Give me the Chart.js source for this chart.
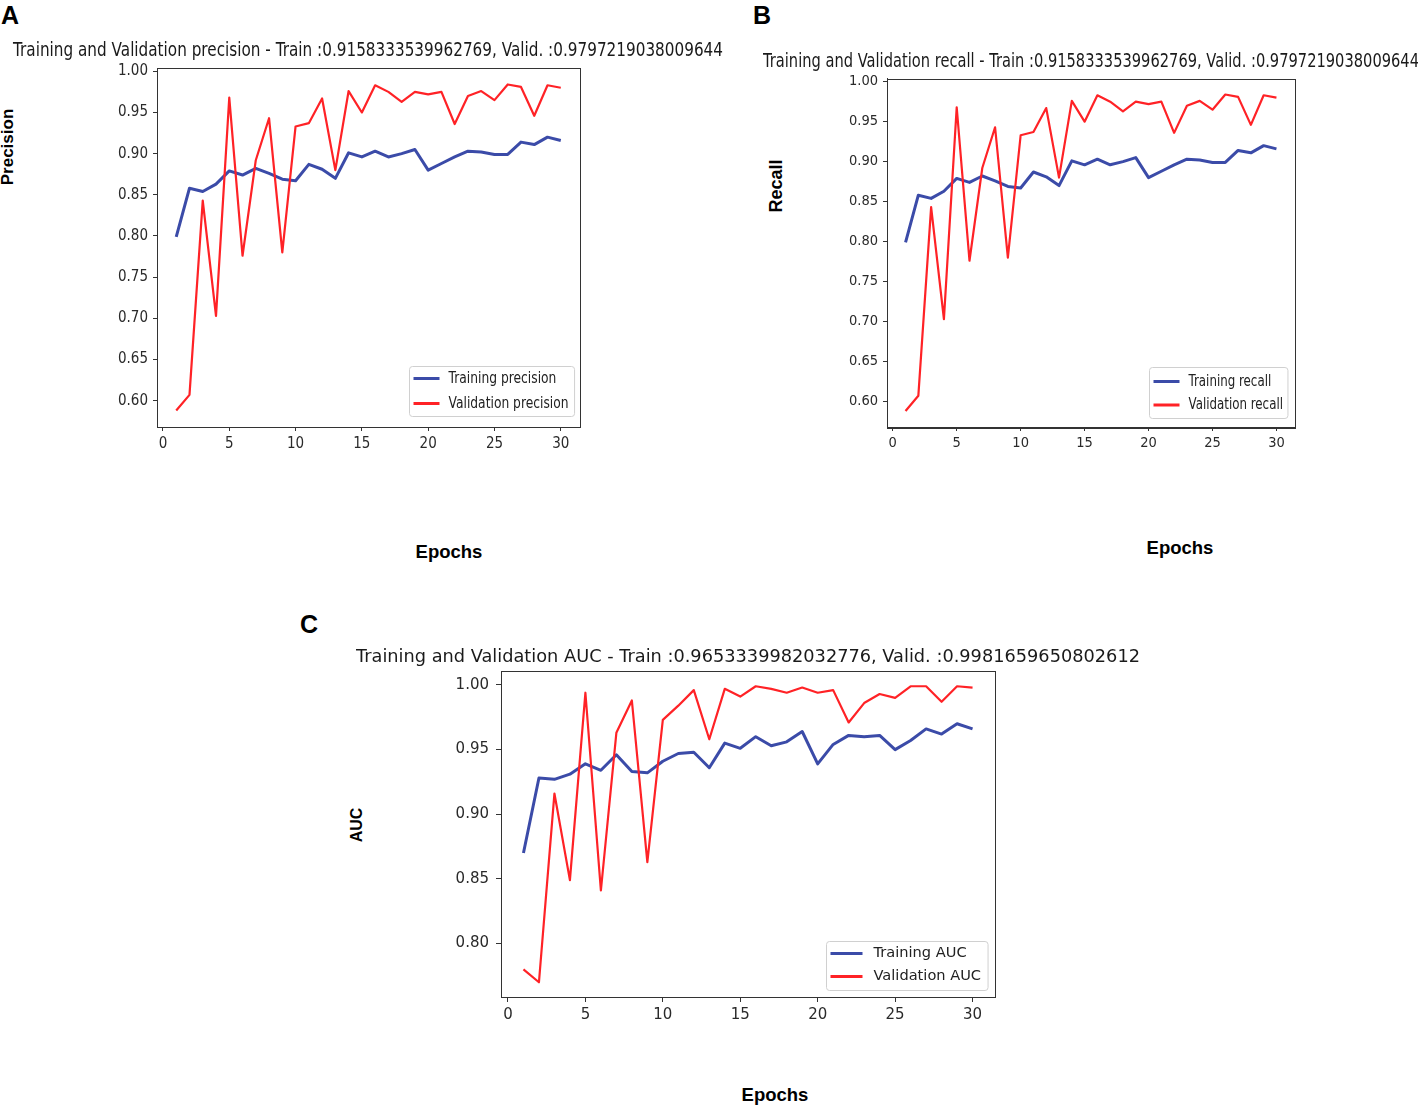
<!DOCTYPE html>
<html>
<head>
<meta charset="utf-8">
<script src="https://cdn.jsdelivr.net/npm/chart.js@4.4.1/dist/chart.umd.min.js"></script>
<style>
  body { margin: 0; width: 1418px; height: 1105px; position: relative; overflow: hidden; background: #fff; }
  canvas { position: absolute; }
  .lbl { position: absolute; transform: translate(-50%, -50%); line-height: 1; white-space: nowrap;
         font-family: 'Liberation Sans', Arial, sans-serif; font-weight: bold; color: #000; }
  .rot { transform: translate(-50%, -50%) rotate(-90deg); }
</style>
</head>
<body>
<div class="lbl" style="left:10px;top:15px;font-size:25px">A</div>
<div class="lbl" style="left:762px;top:15px;font-size:25px">B</div>
<div class="lbl" style="left:309px;top:624px;font-size:25px">C</div>
<div class="lbl rot" style="left:7px;top:147px;font-size:17px">Precision</div>
<div class="lbl rot" style="left:776px;top:186px;font-size:18px">Recall</div>
<div class="lbl rot" style="left:357px;top:825px;font-size:16px">AUC</div>
<div class="lbl" style="left:449px;top:552px;font-size:18.5px">Epochs</div>
<div class="lbl" style="left:1180px;top:548px;font-size:18.5px">Epochs</div>
<div class="lbl" style="left:775px;top:1095px;font-size:18.5px">Epochs</div>

<canvas id="chartA" width="737" height="437" style="left:0px;top:30px"></canvas>
<canvas id="chartB" width="656" height="427" style="left:763px;top:40px"></canvas>
<canvas id="chartC" width="784" height="407" style="left:356px;top:630px"></canvas>

<script>
// values, one per epoch
const epochs = [1, 2, 3, 4, 5, 6, 7, 8, 9, 10, 11, 12, 13, 14, 15, 16, 17, 18, 19, 20, 21, 22, 23, 24, 25, 26, 27, 28, 29, 30];

const precisionTrain = [0.799, 0.858, 0.854, 0.863, 0.879, 0.874, 0.882, 0.876, 0.869, 0.867, 0.887, 0.881, 0.870, 0.901, 0.896,
  0.903, 0.896, 0.900, 0.905, 0.880, 0.888, 0.896, 0.903, 0.902, 0.899, 0.899, 0.914, 0.911, 0.920, 0.916];
const precisionValid = [0.588, 0.607, 0.843, 0.703, 0.968, 0.776, 0.892, 0.943, 0.780, 0.933, 0.937, 0.967, 0.880, 0.976, 0.950,
  0.983, 0.975, 0.963, 0.975, 0.972, 0.975, 0.936, 0.970, 0.976, 0.965, 0.984, 0.981, 0.946, 0.983, 0.980];

const recallTrain = [0.799, 0.858, 0.854, 0.863, 0.879, 0.874, 0.882, 0.876, 0.869, 0.867, 0.887, 0.881, 0.870, 0.901, 0.896,
  0.903, 0.896, 0.900, 0.905, 0.880, 0.888, 0.896, 0.903, 0.902, 0.899, 0.899, 0.914, 0.911, 0.920, 0.916];
const recallValid = [0.588, 0.607, 0.843, 0.703, 0.968, 0.776, 0.892, 0.943, 0.780, 0.933, 0.937, 0.967, 0.880, 0.976, 0.950,
  0.983, 0.975, 0.963, 0.975, 0.972, 0.975, 0.936, 0.970, 0.976, 0.965, 0.984, 0.981, 0.946, 0.983, 0.980];

const aucTrain = [0.870, 0.928, 0.927, 0.931, 0.939, 0.934, 0.946, 0.933, 0.932, 0.941, 0.947, 0.948, 0.936, 0.955, 0.951,
  0.960, 0.953, 0.956, 0.964, 0.939, 0.954, 0.961, 0.960, 0.961, 0.950, 0.957, 0.966, 0.962, 0.970, 0.966];
const aucValid = [0.780, 0.770, 0.916, 0.849, 0.994, 0.841, 0.963, 0.988, 0.863, 0.973, 0.984, 0.996, 0.958, 0.997, 0.991,
  0.999, 0.997, 0.994, 0.998, 0.994, 0.996, 0.971, 0.986, 0.993, 0.990, 0.999, 0.999, 0.987, 0.999, 0.998];

const titleA = 'Training and Validation precision - Train :0.9158333539962769, Valid. :0.9797219038009644';
const titleB = 'Training and Validation recall - Train :0.9158333539962769, Valid. :0.9797219038009644';
const titleC = 'Training and Validation AUC - Train :0.9653339982032776, Valid. :0.9981659650802612';

const trainColor = '#3b4ba8';
const validColor = '#ff2226';
const condensed = "'DejaVu Sans Condensed', 'DejaVu Sans', sans-serif";
const dejavu = "'DejaVu Sans', sans-serif";

// matplotlib style: box around the axes
const frame = {
  id: 'frame',
  afterDatasetsDraw(chart) {
    const a = chart.chartArea, ctx = chart.ctx;
    ctx.save();
    ctx.strokeStyle = '#333';
    ctx.lineWidth = 1;
    ctx.strokeRect(Math.round(a.left) + 0.5, Math.round(a.top) + 0.5, Math.round(a.right - a.left), Math.round(a.bottom - a.top));
    ctx.restore();
  }
};

// legend box in the lower right corner of the plot
const boxLegend = {
  id: 'boxLegend',
  afterDraw(chart, args, o) {
    const ctx = chart.ctx, a = chart.chartArea;
    const sets = chart.data.datasets;
    ctx.save();
    ctx.font = o.size + 'px ' + o.family;
    const widths = sets.map(d => ctx.measureText(d.label).width * o.squeeze);
    const w = o.textX + Math.max(...widths) + o.padR, h = o.height;
    const x0 = Math.round(a.right - o.marginR - w) + 0.5, y0 = Math.round(a.bottom - o.marginB - h) + 0.5;
    ctx.fillStyle = 'rgba(255,255,255,0.85)';
    ctx.strokeStyle = '#d0d0d0';
    ctx.lineWidth = 1;
    ctx.beginPath();
    ctx.roundRect(x0, y0, w, h, 3);
    ctx.fill();
    ctx.stroke();
    sets.forEach((d, i) => {
      const y = y0 + o.firstRow + i * o.rowH;
      ctx.strokeStyle = d.borderColor;
      ctx.lineWidth = 3;
      ctx.beginPath();
      ctx.moveTo(x0 + o.lineX, y);
      ctx.lineTo(x0 + o.lineX + o.lineLen, y);
      ctx.stroke();
      ctx.fillStyle = '#222';
      ctx.textAlign = 'left';
      ctx.textBaseline = 'middle';
      ctx.fillText(d.label, x0 + o.textX, y, widths[i]);
    });
    ctx.restore();
  }
};

function points(vals) {
  return epochs.map((e, i) => ({ x: e, y: vals[i] }));
}

function drawPanel(id, p) {
  const axisTicks = pad => ({
    font: { family: p.family, size: p.tickSize }, color: '#2a2a2a', padding: pad, autoSkip: false, maxRotation: 0, includeBounds: false
  });
  new Chart(document.getElementById(id), {
    type: 'line',
    data: {
      datasets: [
        { label: p.names[0], data: points(p.train), borderColor: trainColor, borderWidth: 3, order: 2 },
        { label: p.names[1], data: points(p.valid), borderColor: validColor, borderWidth: 2.2, order: 1 }
      ]
    },
    plugins: [frame, boxLegend],
    options: {
      responsive: false,
      animation: false,
      devicePixelRatio: 1,
      // title box is as wide as the title in the figure, so the canvas squeezes it the same way
      layout: { padding: { left: p.sideL, right: p.sideR, top: 0, bottom: 0 } },
      elements: {
        point: { radius: 0 },
        line: { tension: 0, fill: false, borderJoinStyle: 'round' }
      },
      plugins: {
        legend: { display: false },
        tooltip: { enabled: false },
        title: {
          display: true, text: p.title, color: '#1a1a1a',
          font: { family: dejavu, size: p.titleSize, weight: 'normal' },
          padding: { top: p.titleTop, bottom: p.titleBottom }
        },
        boxLegend: p.legend
      },
      scales: {
        x: {
          type: 'linear', min: -0.45, max: 31.45,
          ticks: Object.assign(axisTicks(p.xPad), { stepSize: 5, callback: v => String(v) }),
          grid: { drawOnChartArea: false, drawTicks: true, tickLength: p.tickLen, tickColor: '#333' },
          border: { display: true, color: '#333', width: 1 },
          afterFit: s => { s.height = 40; }
        },
        y: {
          min: p.yMin, max: p.yMax,
          ticks: Object.assign(axisTicks(p.yPad), { stepSize: 0.05, callback: v => v.toFixed(2) }),
          grid: { drawOnChartArea: false, drawTicks: true, tickLength: p.tickLen, tickColor: '#333' },
          border: { display: true, color: '#333', width: 1 },
          afterFit: s => { s.width = p.yWidth; }
        },
        // empty right-hand space so the plot sits centred under the title
        yRight: {
          position: 'right', display: true,
          ticks: { display: false }, grid: { display: false }, border: { display: false },
          afterFit: s => { s.width = p.rightWidth; }
        }
      }
    }
  });
}

drawPanel('chartA', {
  title: titleA, titleSize: 20, titleTop: 9, titleBottom: 5,
  family: condensed, tickSize: 15, tickLen: 4, xPad: 4, yPad: 5,
  sideL: 13, sideR: 14, yWidth: 144, rightWidth: 143, yMin: 0.568, yMax: 1.004,
  names: ['Training precision', 'Validation precision'], train: precisionTrain, valid: precisionValid,
  legend: { family: dejavu, size: 16.4, squeeze: 0.75, lineX: 4, lineLen: 26, textX: 39, padR: 6, height: 50,
            firstRow: 12, rowH: 25, marginR: 6, marginB: 11 }
});

drawPanel('chartB', {
  title: titleB, titleSize: 19.5, titleTop: 10.3, titleBottom: 4.8,
  family: condensed, tickSize: 14.5, tickLen: 4, xPad: 4, yPad: 5,
  sideL: 0, sideR: 0, yWidth: 124, rightWidth: 124, yMin: 0.568, yMax: 1.004,
  names: ['Training recall', 'Validation recall'], train: recallTrain, valid: recallValid,
  legend: { family: dejavu, size: 16, squeeze: 0.74, lineX: 4, lineLen: 26, textX: 39, padR: 5, height: 51,
            firstRow: 14, rowH: 23.5, marginR: 8, marginB: 9 }
});

drawPanel('chartC', {
  title: titleC, titleSize: 18, titleTop: 16.2, titleBottom: 3.6,
  family: dejavu, tickSize: 15, tickLen: 5, xPad: 4, yPad: 7,
  sideL: 0, sideR: 0, yWidth: 145, rightWidth: 145, yMin: 0.7586, yMax: 1.0105,
  names: ['Training AUC', 'Validation AUC'], train: aucTrain, valid: aucValid,
  legend: { family: dejavu, size: 14.6, squeeze: 1, lineX: 4, lineLen: 32, textX: 47, padR: 7, height: 49,
            firstRow: 12, rowH: 23, marginR: 7, marginB: 7 }
});
</script>
</body>
</html>
